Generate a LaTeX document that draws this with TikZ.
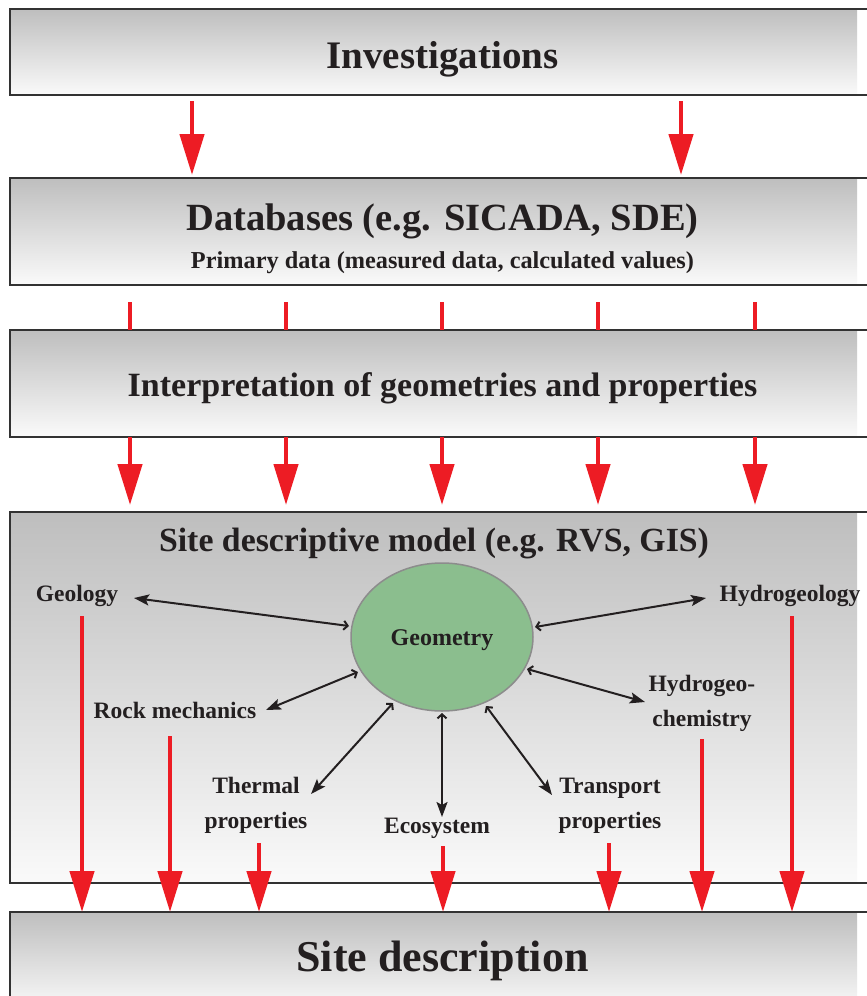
\documentclass[tikz,border=0pt]{standalone}
\usepackage{fontspec}
\setmainfont{Liberation Serif}
\usetikzlibrary{arrows.meta,shapes.geometric}
\definecolor{rd}{RGB}{237,28,36}
\definecolor{ink}{RGB}{35,31,32}
\definecolor{bord}{RGB}{50,50,50}
\definecolor{topg}{RGB}{190,190,190}
\definecolor{botg}{RGB}{250,250,250}
\definecolor{geogreen}{RGB}{139,190,142}
\begin{document}
\begin{tikzpicture}[x=1pt,y=-1pt,
  redarrow/.style={draw=rd, line width=4.5pt, -{Triangle[width=24pt,length=41pt]}},
  redline/.style={draw=rd, line width=4pt},
  blkarrow/.style={draw=ink, line width=2pt, {Stealth[length=15pt,width=11pt,inset=3pt]}-{Straight Barb[length=4pt,width=9pt]}},
  boxshade/.style={top color=topg, bottom color=botg, draw=none},
  boxline/.style={draw=bord, line width=2.5pt},
  bigtxt/.style={font=\bfseries\fontsize{#1}{#1}\selectfont, text=ink, inner sep=0pt, anchor=base},
  lbl/.style={font=\bfseries\fontsize{23.5}{35}\selectfont, text=ink, inner sep=0pt, anchor=base, align=center}]
\useasboundingbox (0,0) rectangle (867,996);
\fill[white] (0,0) rectangle (867,996);
% boxes
\foreach \ya/\yb in {9/95, 178/285, 330/437, 512/883, 912/1010}{
  \shade[boxshade] (10,\ya) rectangle (857,\yb);
  \draw[boxline] (880,\ya) -- (10,\ya) -- (10,\yb) -- (880,\yb);
}
% box texts
\node[bigtxt=39] (inv) at (442.5,68.5) {Investigations};
\node[bigtxt=38.5] (db) at (442.5,230) {Databases (e.g. SICADA, SDE)};
\node[bigtxt=24.3] (prim) at (442.5,268) {Primary data (measured data, calculated values)};
\node[bigtxt=34] (interp) at (442.5,396.5) {Interpretation of geometries and properties};
\node[bigtxt=33.8] (sdm) at (434,551.5) {Site descriptive model (e.g. RVS, GIS)};
\node[bigtxt=44] (sd) at (442.5,971.5) {Site description};
% ellipse
\node[ellipse, draw={rgb,255:red,140;green,140;blue,140}, line width=1.5pt, fill=geogreen,
      minimum width=182pt, minimum height=148pt, inner sep=0pt] (geom) at (442,637) {};
\node[bigtxt=24] (geomtxt) at (442,645) {Geometry};
% labels (base = last line)
\node[lbl] (geol) at (77,601) {Geology};
\node[lbl] (hgeol) at (790,601) {Hydrogeology};
\node[lbl] (rock) at (175,718) {Rock mechanics};
\node[lbl] (hchem) at (702,726) {Hydrogeo-\\chemistry};
\node[lbl] (therm) at (256,828) {Thermal\\properties};
\node[lbl] (eco) at (437,833) {Ecosystem};
\node[lbl] (trans) at (610,828) {Transport\\properties};
% red arrows investigations -> databases
\foreach \x [count=\i] in {192,681}{
  \coordinate (ia\i) at (\x,101);
  \coordinate (ib\i) at (\x,175);
  \draw[redarrow] (ia\i) -- (ib\i);
}
% red lines databases -> interpretation, arrows interpretation -> model
\foreach \x [count=\i] in {130,286,442,598,755}{
  \coordinate (da\i) at (\x,302);
  \coordinate (db\i) at (\x,330);
  \draw[redline] (da\i) -- (db\i);
  \coordinate (ma\i) at (\x,437);
  \coordinate (mb\i) at (\x,505);
  \draw[redarrow] (ma\i) -- (mb\i);
}
% red arrows model -> site description
\foreach \x/\y [count=\i] in {82/616, 170/736, 259/843, 443/846, 609/843, 702/739, 792/616}{
  \coordinate (sa\i) at (\x,\y);
  \coordinate (sb\i) at (\x,912);
  \draw[redarrow] (sa\i) -- (sb\i);
}
% black double arrows
\coordinate (g1) at (134,598);   \coordinate (g2) at (349,626);
\coordinate (h1) at (706,598);   \coordinate (h2) at (535,627);
\coordinate (r1) at (266,710);   \coordinate (r2) at (358,672);
\coordinate (c1) at (645,702);   \coordinate (c2) at (527,669);
\coordinate (t1) at (311,794);   \coordinate (t2) at (393,703);
\coordinate (e1) at (442,817);   \coordinate (e2) at (442,713);
\coordinate (p1) at (552,795);   \coordinate (p2) at (486,706);
\foreach \a in {g,h,r,c,t,e,p}{
  \draw[blkarrow] (\a1) -- (\a2);
}
\end{tikzpicture}
\end{document}
